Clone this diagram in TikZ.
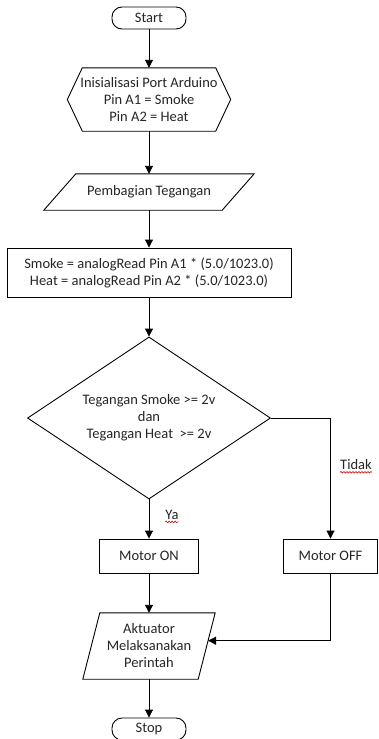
\documentclass[tikz,border=0pt]{standalone}
\usepackage{fontspec}
\setmainfont{Carlito}
\usetikzlibrary{arrows.meta,shapes.geometric,calc,decorations.pathmorphing}
\begin{document}
\begin{tikzpicture}[x=1pt,y=-1pt,
  every node/.style={font=\fontsize{14.5}{17}\selectfont, text=black!85, align=center, inner sep=0pt},
  line/.style={line width=0.9pt, draw=black},
  arr/.style={line, -{Triangle[width=8pt,length=8pt]}},
  boxed/.style={line, draw},
  term/.style={boxed, rounded corners=10pt, minimum width=74pt, minimum height=22pt},
  squiggle/.style={draw=red!80!black, line width=0.6pt, decorate,
    decoration={snake, segment length=3pt, amplitude=0.8pt}}
]
\clip (0,0) rectangle (378,739);
\fill[white] (0,0) rectangle (378,739);

% terminals, process boxes and the decision
\node[term] (start) at (149,18) {Start};

\node[minimum width=163pt, minimum height=63pt] (init) at (149,99.5)
  {Inisialisasi Port Arduino\\Pin A1 = Smoke\\Pin A2 = Heat};
\draw[line] (init.west) -- ([xshift=15pt]init.north west) -- ([xshift=-15pt]init.north east)
  -- (init.east) -- ([xshift=-15pt]init.south east) -- ([xshift=15pt]init.south west) -- cycle;

\node[minimum width=210pt, minimum height=36pt] (div) at (149,192) {Pembagian Tegangan};
\draw[line] ([xshift=32pt]div.north west) -- (div.north east)
  -- ([xshift=-32pt]div.south east) -- (div.south west) -- cycle;

\node[boxed, minimum width=284pt, minimum height=49pt] (read) at (149,272.5)
  {Smoke = analogRead Pin A1 * (5.0/1023.0)\\Heat = analogRead Pin A2 * (5.0/1023.0)};

\node[boxed, diamond, aspect=1.5, minimum width=243pt, minimum height=162pt] (dec) at (149,418)
  {Tegangan Smoke >= 2v\\dan\\Tegangan Heat\ \ >= 2v};

\node[boxed, minimum width=99pt, minimum height=34pt] (on) at (149,556) {Motor ON};
\node[boxed, minimum width=94pt, minimum height=34pt] (off) at (330.5,556) {Motor OFF};

\node[minimum width=132pt, minimum height=66pt] (act) at (149,646)
  {Aktuator\\Melaksanakan\\Perintah};
\draw[line] ([xshift=17pt]act.north west) -- (act.north east)
  -- ([xshift=-17pt]act.south east) -- (act.south west) -- cycle;

\node[term] (stop) at (149,729) {Stop};

% branch labels
\node (tidak) at (356,465) {Tidak};
\draw[squiggle] ([yshift=-2pt]tidak.south west) -- ([yshift=-2pt]tidak.south east);
\node (ya) at (172,515) {Ya};
\draw[squiggle] ([yshift=-2pt]ya.south west) -- ([yshift=-2pt]ya.south east);

% connectors
\draw[arr] (start.south) -- (init.north);
\draw[arr] (init.south) -- (div.north);
\draw[arr] (div.south) -- (read.north);
\draw[arr] (read.south) -- (dec.north);
\draw[arr] (dec.east) -| (off.north);
\draw[arr] (dec.south) -- (on.north);
\draw[arr] (on.south) -- (act.north);
\draw[arr] (off.south) |- ($(act.north east)!0.42!([xshift=-17pt]act.south east)$);
\draw[arr] (act.south) -- (stop.north);
\end{tikzpicture}
\end{document}
